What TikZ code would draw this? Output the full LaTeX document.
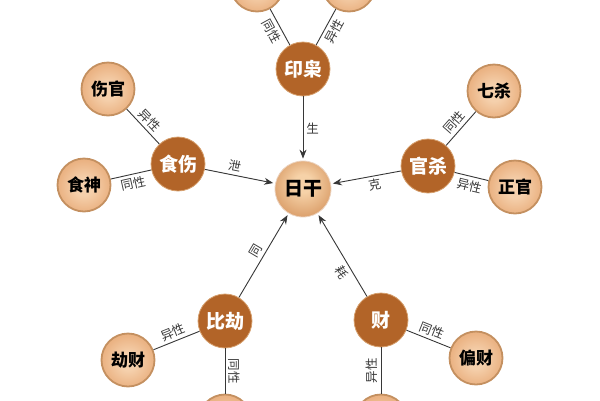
\documentclass[tikz,border=0pt]{standalone}
\usepackage{fontspec}
\usepackage{xcolor}
\usepackage{tikz}
\usetikzlibrary{arrows.meta}
\newfontfamily\cjk{Noto Sans CJK SC}

\definecolor{hubbrown}{RGB}{178,100,40}
\definecolor{hubrim}{RGB}{214,160,110}
\definecolor{ringtan}{RGB}{196,144,96}
\definecolor{leafin}{RGB}{245,208,172}
\definecolor{leafout}{RGB}{218,132,66}
\definecolor{dayin}{RGB}{246,210,168}
\definecolor{dayout}{RGB}{190,104,40}
\definecolor{linkgray}{RGB}{55,55,55}

\pgfdeclareradialshading{leafball}{\pgfpoint{0bp}{-2bp}}{color(0bp)=(leafin); color(8bp)=(leafin); color(50bp)=(leafout)}
\pgfdeclareradialshading{dayball}{\pgfpoint{0bp}{6bp}}{color(0bp)=(dayin); color(8bp)=(dayin); color(50bp)=(dayout)}

\begin{document}
\begin{tikzpicture}[x=1pt, y=-1pt,
  hub/.style={circle, minimum size=54pt, inner sep=0pt, fill=hubbrown, draw=hubrim, line width=0.8pt, text=white, font=\cjk\bfseries\fontsize{19}{19}\selectfont},
  leaf/.style={circle, minimum size=53pt, inner sep=0pt, shading=leafball, draw=ringtan, line width=1.8pt, text=black, font=\cjk\bfseries\fontsize{17}{17}\selectfont},
  day/.style={circle, minimum size=56pt, inner sep=0pt, shading=dayball, draw=white!70!dayout, line width=0.8pt, text=black, font=\cjk\bfseries\fontsize{19}{19}\selectfont},
  link/.style={draw=linkgray, line width=0.9pt},
  tag/.style={font=\cjk\fontsize{12.5}{12.5}\selectfont, text=linkgray, inner sep=3pt},
  >={Stealth[length=9pt, width=7pt]}
]
\clip (0,0) rectangle (600,400);

% Nodes
\node[day] (ri) at (303,189) {日干};
\node[hub] (yin) at (303,69) {印枭};
\node[hub] (shi) at (178,164) {食伤};
\node[hub] (guan) at (428,166) {官杀};
\node[hub] (bi) at (225,321) {比劫};
\node[hub] (cai) at (381,320) {财};

\node[leaf] (yinA) at (257,-15) {};
\node[leaf] (yinB) at (349,-15) {};
\node[leaf] (shangguan) at (108,89) {伤官};
\node[leaf] (shishen) at (84,185) {食神};
\node[leaf] (qisha) at (494,91) {七杀};
\node[leaf] (zhengguan) at (515,187) {正官};
\node[leaf] (jiecai) at (128,360) {劫财};
\node[leaf] (piancai) at (476,358) {偏财};
\node[leaf] (biA) at (225,421) {};
\node[leaf] (caiB) at (381,421) {};

% Leaf links
\draw[link] (yinA) -- (yin) node[tag, midway, below, sloped] {同性};
\draw[link] (yin) -- (yinB) node[tag, midway, below, sloped] {异性};
\draw[link] (shangguan) -- (shi) node[tag, midway, above, sloped] {异性};
\draw[link] (shishen) -- (shi) node[tag, midway, below, sloped] {同性};
\draw[link] (guan) -- (qisha) node[tag, midway, above, sloped] {同性};
\draw[link] (guan) -- (zhengguan) node[tag, midway, below, sloped] {异性};
\draw[link] (jiecai) -- (bi) node[tag, midway, above, sloped] {异性};
\draw[link] (bi) -- (biA) node[tag, midway, above, sloped] {同性};
\draw[link] (cai) -- (piancai) node[tag, midway, above, sloped] {同性};
\draw[link] (caiB) -- (cai) node[tag, midway, above, sloped] {异性};

% Arrows into the day master
\draw[link, ->, shorten >=2pt] (yin) -- (ri) node[tag, midway, right] {生};
\draw[link, ->, shorten >=2pt] (shi) -- (ri) node[tag, pos=0.4, above, sloped] {泄};
\draw[link, ->, shorten >=2pt] (guan) -- (ri) node[tag, pos=0.4, below, sloped] {克};
\draw[link, ->, shorten >=2pt] (bi) -- (ri) node[tag, midway, above, sloped] {同};
\draw[link, ->, shorten >=2pt] (cai) -- (ri) node[tag, pos=0.35, below, sloped] {耗};

\end{tikzpicture}
\end{document}
